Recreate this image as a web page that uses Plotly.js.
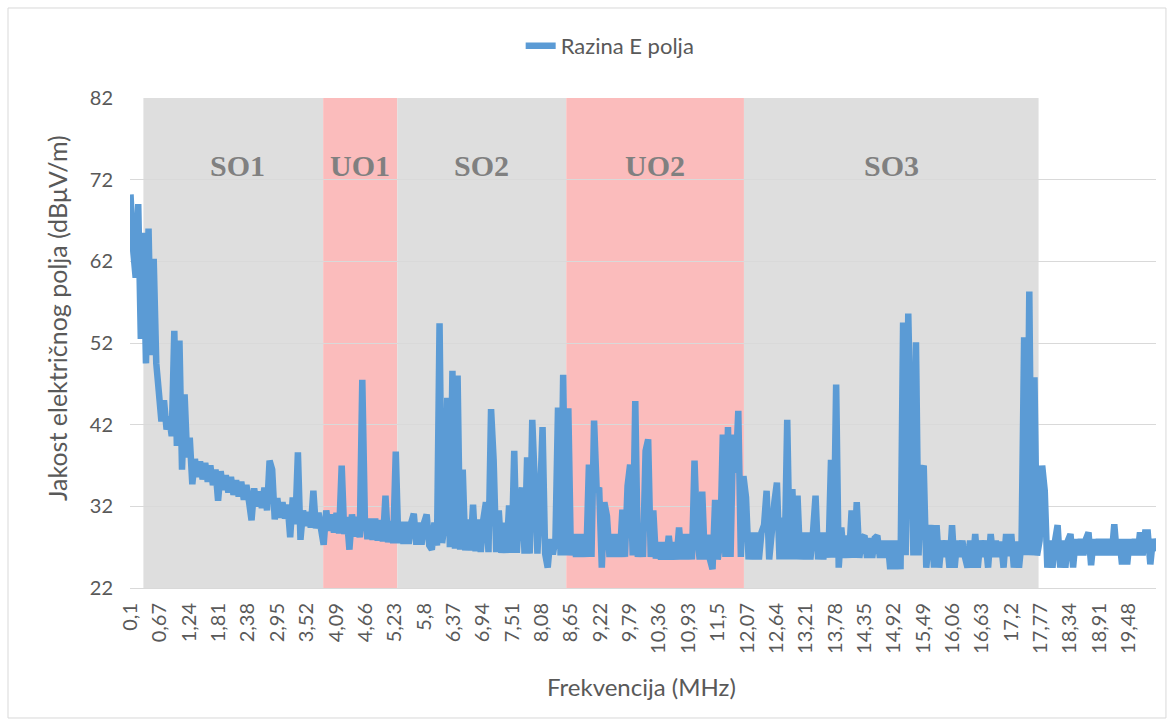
<!DOCTYPE html>
<html>
<head>
<meta charset="utf-8">
<script src="https://cdn.plot.ly/plotly-3.0.1.min.js"></script>
<style>
html,body{margin:0;padding:0;background:#fff;}
#chart{width:1175px;height:726px;}
</style>
</head>
<body>
<div id="chart"></div>
<script>
// Frequency axis: first sample and step (MHz)
const freqStart = 0.1;
const freqStep = 0.05;

const eField = [
70.2,63.5,60,69,52.5,65.5,49.5,66,50.5,62.3,
49.5,46,42.4,45,41.4,43,40.6,53.5,39.4,52.3,
36.5,45.7,38,40.4,34.7,37.8,35.6,37.5,35.3,37.3,
35,37,34.6,36.5,32.7,36.3,34,35.8,33.7,35.6,
33.4,35.2,33.2,35,32.8,34.6,32.6,30.3,34.2,32,
33.8,31.8,34.3,31.5,37.6,36.5,30.4,33,30.6,32.5,
30.5,32.2,28.2,33.1,29.8,38.6,27.9,31.5,29.6,31.3,
29.4,33.9,29.3,31.2,29.2,27.3,31.5,29,31,28.8,
31.2,28.7,37,28.6,30.7,26.7,31,28.3,30.7,28.2,
47.5,30.5,28,30.5,27.9,30.5,27.8,30.3,27.7,33.3,
27.6,30.2,27.5,38.7,27.5,30.1,27.4,30.1,27.4,30,
31.1,27.3,30,27.3,30,31,27.2,26.7,30,27.2,
54.4,27.5,30,45.3,27,48.6,26.8,48,26.7,36.5,
26.6,30.4,26.6,32.2,26.5,30.4,26.4,30.4,32.5,26.4,
43.9,37.7,26.4,31.5,26.3,30,26.3,32.1,26.3,38.8,
26.3,32.1,34.3,26.2,38,26.2,42.6,34.7,26.2,32.7,
41.7,26.2,24.5,28,26.1,28,44.1,26,48.1,26,
44,26,28.6,25.8,28.6,25.8,28.6,25.8,37.1,25.8,
42.5,34.1,34,24.5,32.5,30.8,25.8,28.6,25.8,28.6,
25.8,31.6,25.8,34.5,37.1,26,44.9,25.8,28.6,25.8,
38.8,40.2,25.8,31.5,25.6,27.6,25.5,27.6,25.5,28.4,
25.5,27.6,25.5,29.4,25.5,28.6,25.5,28.6,25.5,37.6,
28.6,25.5,33.8,25.5,28.5,25.5,24.3,32.8,25.5,27.6,
40.8,25.8,41.7,25.8,40.8,36.1,43.7,25.8,35.7,33.1,
25.5,28.8,25.5,28.8,25.5,28.8,29.7,33.9,25.5,28.8,
32.5,34.9,25.5,30.6,25.5,42.6,25.5,34.1,25.5,33.3,
25.5,28.8,25.5,28.8,25.5,28.8,33.3,25.5,28.8,25.5,
28.8,25.7,37.7,25.7,46.9,24.5,29.4,25.7,28.4,25.7,
31.5,25.7,32.5,25.7,28.1,28.4,25.7,28.1,25.7,28.1,
28.4,25.7,27.8,25.7,27.8,24.3,27.8,24.3,27.8,24.3,
54.5,26,55.6,40,26,52.1,26,35.9,37,24.5,
27.8,29.7,24.5,29.7,24.5,27.8,25.8,27.8,24.5,29.7,
24.5,27.8,25.8,27.8,25.8,24.5,27.8,24.5,28.6,24.5,
27.8,25.8,27.8,24.5,28.6,25.8,27.8,25.8,27.7,24.5,
28.6,25.9,28.6,24.5,27.7,24.5,27.7,52.7,26,58.3,
26,47.8,26,27.8,37,33.9,24.5,27.8,24.5,27.8,
29.7,24.5,27.8,24.5,27.8,28.6,24.5,28,26,28,
26,28,28.8,24.8,28,26,28,26,28,26,
28,26,29.8,26,28,24.9,28,24.9,28,26,
28,26,28.8,26,28.8,28.8,24.9,28,26.5
];

// Category tick positions and labels
const tickFreqs = [0.1,0.67,1.24,1.81,2.38,2.95,3.52,4.09,4.66,5.23,5.8,6.37,6.94,7.51,8.08,8.65,9.22,9.79,10.36,10.93,11.5,12.07,12.64,13.21,13.78,14.35,14.92,15.49,16.06,16.63,17.2,17.77,18.34,18.91,19.48];
const tickLabels = ["0,1","0,67","1,24","1,81","2,38","2,95","3,52","4,09","4,66","5,23","5,8","6,37","6,94","7,51","8,08","8,65","9,22","9,79","10,36","10,93","11,5","12,07","12,64","13,21","13,78","14,35","14,92","15,49","16,06","16,63","17,2","17,77","18,34","18,91","19,48"];
const yTicks = [22,32,42,52,62,72,82];

// Frequency bands (MHz)
const bandNames = ["SO1","UO1","SO2","UO2","SO3"];
const bandStart = [0.35,3.84,5.28,8.56,12.01];
const bandEnd   = [3.84,5.28,8.56,12.01,17.73];
const bandKind  = ["S","U","S","U","S"];

const grayFill = "#dedede";
const pinkFill = "#fbbcbc";
const txt = "#595959";
const font = "Lato, 'Open Sans', sans-serif";

const shapes = bandNames.map((n,k)=>({
  type:"rect", xref:"x", yref:"paper", layer:"below",
  x0:bandStart[k], x1:bandEnd[k], y0:0, y1:1,
  fillcolor: bandKind[k]==="U" ? pinkFill : grayFill,
  line:{width:0}
}));
shapes.push({type:"rect", xref:"paper", yref:"paper", layer:"below",
  x0:-0.1189, x1:1.0097, y0:-0.2653, y1:1.1837,
  line:{color:"#d9d9d9", width:1}, fillcolor:"rgba(0,0,0,0)"});

const annotations = bandNames.map((n,k)=>({
  text:n, xref:"x", yref:"paper",
  x:(bandStart[k]+bandEnd[k])/2 + (k===0?0.08:0), y:0.863,
  showarrow:false, xanchor:"center", yanchor:"middle",
  font:{family:"'Liberation Serif', 'Times New Roman', serif", size:30, color:"#808080", weight:"bold"}
}));
annotations.push({text:"Jakost električnog polja (dBμV/m)", xref:"paper", yref:"paper",
  x:-0.0711, y:0.551, textangle:-90, showarrow:false, xanchor:"center", yanchor:"middle",
  font:{family:font, size:25, color:txt}});
annotations.push({text:"Frekvencija (MHz)", xref:"paper", yref:"paper",
  x:0.499, y:-0.2, showarrow:false, xanchor:"center", yanchor:"middle",
  font:{family:font, size:24, color:txt}});

const trace = {
  type:"scatter", mode:"lines", name:"Razina E polja",
  x0:freqStart, dx:freqStep, y:eField,
  line:{color:"#5b9bd5", width:6.5, simplify:false}
};

const layout = {
  width:1175, height:726,
  margin:{l:130, r:19, t:98, b:138},
  paper_bgcolor:"#fff", plot_bgcolor:"#fff",
  showlegend:true,
  legend:{orientation:"h", x:0.468, xanchor:"center", y:1.106, yanchor:"middle",
    font:{family:font, size:22, color:txt}, bgcolor:"rgba(0,0,0,0)"},
  xaxis:{range:[0.09,20.01], tickvals:tickFreqs, ticktext:tickLabels, tickangle:-90,
    showgrid:false, zeroline:false, showline:true, linecolor:"#d9d9d9", linewidth:1,
    ticks:"", ticklabelstandoff:6,
    tickfont:{family:font, size:20, color:txt}},
  yaxis:{range:[22,82], tickvals:yTicks, showgrid:true, gridcolor:"#d9d9d9", gridwidth:1,
    zeroline:false, showline:false, ticks:"", ticklabelstandoff:16,
    tickfont:{family:font, size:20, color:txt}},
  shapes:shapes, annotations:annotations
};

Plotly.newPlot("chart",[trace],layout,{displayModeBar:false, staticPlot:true});
</script>
</body>
</html>
